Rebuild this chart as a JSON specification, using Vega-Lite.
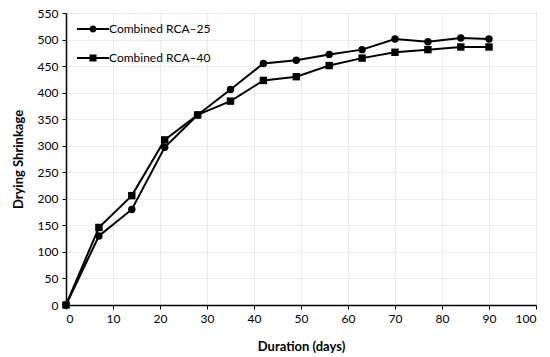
{
  "$schema": "https://vega.github.io/schema/vega-lite/v6.json",
  "width": 470,
  "height": 292,
  "autosize": "none",
  "padding": {"left": 66, "top": 13, "right": 14, "bottom": 52},
  "background": "white",
  "config": {
    "font": "Lato",
    "view": {"stroke": "#404040", "strokeWidth": 1},
    "axis": {
      "gridColor": "#ebebeb",
      "gridWidth": 1,
      "domainColor": "black",
      "domainWidth": 1.5,
      "tickColor": "black",
      "tickSize": 4,
      "labelFont": "Lato",
      "labelFontSize": 12,
      "labelColor": "black",
      "titleFont": "Lato",
      "titleFontSize": 13,
      "titleFontWeight": "bold",
      "titleColor": "black"
    }
  },
  "data": {
    "values": [
      {"day": 0, "val": 0, "s": "Combined RCA–25"},
      {"day": 7, "val": 130, "s": "Combined RCA–25"},
      {"day": 14, "val": 180, "s": "Combined RCA–25"},
      {"day": 21, "val": 297, "s": "Combined RCA–25"},
      {"day": 28, "val": 358, "s": "Combined RCA–25"},
      {"day": 35, "val": 406, "s": "Combined RCA–25"},
      {"day": 42, "val": 455, "s": "Combined RCA–25"},
      {"day": 49, "val": 461, "s": "Combined RCA–25"},
      {"day": 56, "val": 472, "s": "Combined RCA–25"},
      {"day": 63, "val": 481, "s": "Combined RCA–25"},
      {"day": 70, "val": 501, "s": "Combined RCA–25"},
      {"day": 77, "val": 496, "s": "Combined RCA–25"},
      {"day": 84, "val": 503, "s": "Combined RCA–25"},
      {"day": 90, "val": 501, "s": "Combined RCA–25"},
      {"day": 0, "val": 0, "s": "Combined RCA–40"},
      {"day": 7, "val": 146, "s": "Combined RCA–40"},
      {"day": 14, "val": 206, "s": "Combined RCA–40"},
      {"day": 21, "val": 311, "s": "Combined RCA–40"},
      {"day": 28, "val": 358, "s": "Combined RCA–40"},
      {"day": 35, "val": 384, "s": "Combined RCA–40"},
      {"day": 42, "val": 423, "s": "Combined RCA–40"},
      {"day": 49, "val": 430, "s": "Combined RCA–40"},
      {"day": 56, "val": 451, "s": "Combined RCA–40"},
      {"day": 63, "val": 465, "s": "Combined RCA–40"},
      {"day": 70, "val": 476, "s": "Combined RCA–40"},
      {"day": 77, "val": 481, "s": "Combined RCA–40"},
      {"day": 84, "val": 486, "s": "Combined RCA–40"},
      {"day": 90, "val": 486, "s": "Combined RCA–40"}
    ]
  },
  "encoding": {
    "x": {
      "field": "day", "type": "quantitative",
      "scale": {"domain": [0, 100], "nice": false},
      "axis": {"values": [0,10,20,30,40,50,60,70,80,90,100], "title": "Duration (days)", "titlePadding": 16, "labelPadding": 4}
    },
    "y": {
      "field": "val", "type": "quantitative",
      "scale": {"domain": [0, 550], "nice": false},
      "axis": {"values": [0,50,100,150,200,250,300,350,400,450,500,550], "title": "Drying Shrinkage", "titlePadding": 12, "labelPadding": 4}
    }
  },
  "layer": [
    {
      "mark": {"type": "line", "color": "black", "strokeWidth": 2},
      "encoding": {"detail": {"field": "s"}}
    },
    {
      "mark": {"type": "point", "filled": true, "color": "black", "opacity": 1, "size": 55},
      "encoding": {
        "shape": {
          "field": "s", "type": "nominal",
          "scale": {"domain": ["Combined RCA–25", "Combined RCA–40"], "range": ["circle", "square"]},
          "legend": null
        }
      }
    },
    {
      "mark": {"type": "point", "filled": true, "color": "black", "opacity": 0, "size": 55},
      "encoding": {
        "shape": {
          "field": "s", "type": "nominal",
          "scale": {"domain": ["Combined RCA–25", "Combined RCA–40"], "range": ["M-1,-0.0625H-0.21V0.0625H-1Z M0.21,-0.0625H1V0.0625H0.21Z M-0.22,0A0.22,0.22 0 1 1 0.22,0A0.22,0.22 0 1 1 -0.22,0Z", "M-1,-0.0625H-0.22V0.0625H-1Z M0.22,-0.0625H1V0.0625H0.22Z M-0.22,-0.22H0.22V0.22H-0.22Z"]},
          "legend": {
            "title": null,
            "orient": "none",
            "legendX": 11,
            "legendY": 0,
            "padding": 0,
            "symbolSize": 1024,
            "symbolFillColor": "black",
            "symbolStrokeWidth": 0,
            "symbolOpacity": 1,
            "labelFontSize": 12,
            "labelColor": "black",
            "labelOffset": 0,
            "rowPadding": 7
          }
        }
      }
    }
  ],
  "resolve": {"scale": {"shape": "independent"}, "legend": {"shape": "independent"}}
}
